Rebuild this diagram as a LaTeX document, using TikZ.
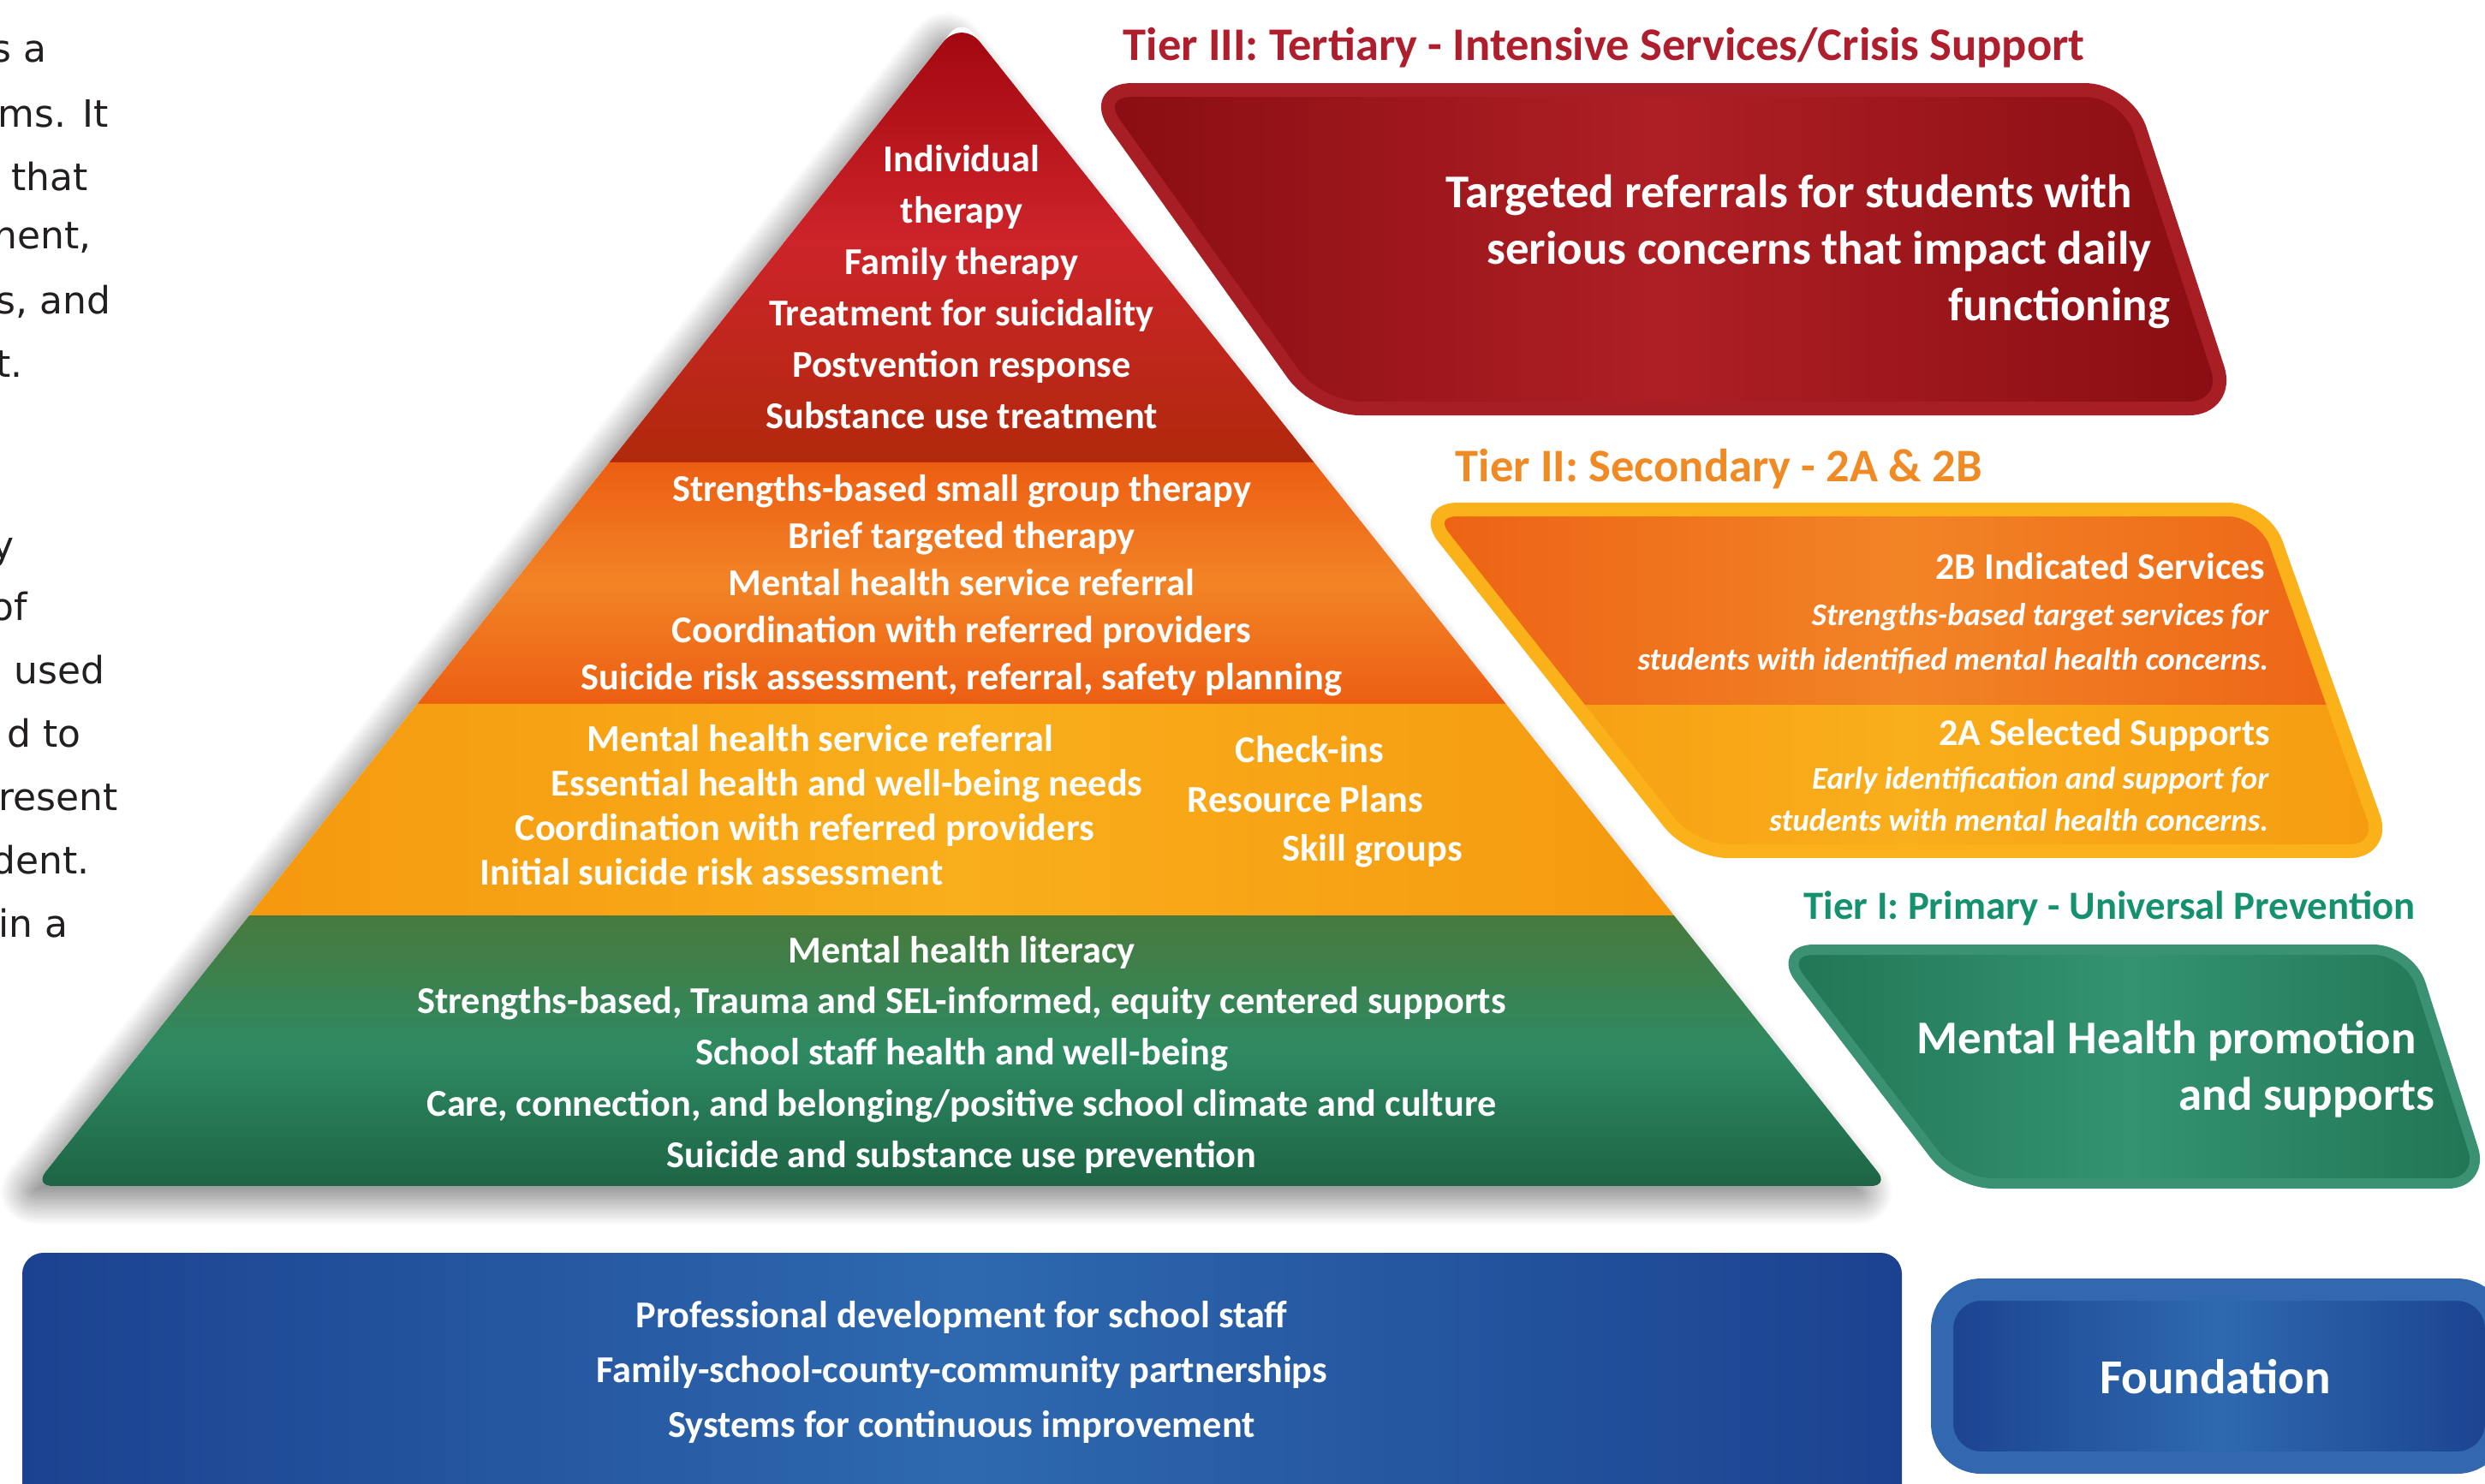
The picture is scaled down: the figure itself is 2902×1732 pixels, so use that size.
\documentclass[tikz,border=0pt]{standalone}
\usepackage{fontspec}
\setmainfont{Carlito}
\newfontfamily\sidefont{DejaVu Sans}
\usetikzlibrary{matrix,calc,shadows.blur}

\definecolor{pagetext}{HTML}{231F20}
\definecolor{redtop}{HTML}{A0060E}
\definecolor{redmid}{HTML}{CD242A}
\definecolor{redbot}{HTML}{B0290C}
\definecolor{orgedge}{HTML}{EC5E12}
\definecolor{orgmid}{HTML}{F28426}
\definecolor{yeledge}{HTML}{F5990F}
\definecolor{yelmid}{HTML}{F9AE1B}
\definecolor{grntop}{HTML}{487A3D}
\definecolor{grnmid}{HTML}{2E8A62}
\definecolor{grnbot}{HTML}{1D6445}
\definecolor{bluedark}{HTML}{1B4290}
\definecolor{bluemid}{HTML}{2E69AF}
\definecolor{fndedge}{HTML}{3168B0}
\definecolor{tthreetitle}{HTML}{AF1E2D}
\definecolor{tthreeedge}{HTML}{A81E25}
\definecolor{tthreedark}{HTML}{880D12}
\definecolor{tthreemid}{HTML}{AE1F24}
\definecolor{ttwotitle}{HTML}{F08A24}
\definecolor{ttwoedge}{HTML}{FAB11A}
\definecolor{tonetitle}{HTML}{15916F}
\definecolor{toneedge}{HTML}{3A9272}
\definecolor{tonedark}{HTML}{217554}
\definecolor{tonemid}{HTML}{339371}

\tikzset{
    pyrtext/.style={text=white, font=\bfseries\fontsize{12.6}{15}\selectfont, inner sep=0pt, anchor=base},
    pyrlist/.style={matrix of nodes, nodes={pyrtext}, row sep={#1,between origins}, inner sep=0pt},
    tiertitle/.style={font=\bfseries\fontsize{15.5}{18}\selectfont, inner sep=0pt, anchor=base west},
    boxtext/.style={text=white, font=\bfseries\fontsize{15.6}{18}\selectfont, inner sep=0pt, anchor=base east},
    subhead/.style={text=white, font=\bfseries\fontsize{12.5}{14}\selectfont, inner sep=0pt, anchor=base east},
    desc/.style={text=white, font=\bfseries\itshape\fontsize{10.5}{12}\selectfont, inner sep=0pt, anchor=base east},
    sidetext/.style={text=pagetext, font=\sidefont\fontsize{12.5}{15}\selectfont, inner sep=0pt, anchor=base east},
}

\begin{document}
\begin{tikzpicture}[x=0.01cm, y=-0.01cm]
    \useasboundingbox (0,0) rectangle (2902,1732);

    % text of the page, cut by the left edge
    \node (pg-1) [sidetext] at (55,72) {s a};
    \node (pg-2) [sidetext] at (127,148) {ms. It};
    \node (pg-3) [sidetext] at (103,222) {that};
    \node (pg-4) [sidetext] at (107,290) {nent,};
    \node (pg-5) [sidetext] at (130,366) {s, and};
    \node (pg-6) [sidetext] at (27,440) {t.};
    \node (pg-7) [sidetext] at (17,652) {y};
    \node (pg-8) [sidetext] at (33,724) {of};
    \node (pg-9) [sidetext] at (123,798) {used};
    \node (pg-10) [sidetext] at (95,872) {d to};
    \node (pg-11) [sidetext] at (138,946) {resent};
    \node (pg-12) [sidetext] at (105,1020) {dent.};
    \node (pg-13) [sidetext] at (80,1094) {in a};

    % the pyramid - corners and layer borders
    \coordinate (apex) at (1123,22);
    \coordinate (bl) at (40,1385);
    \coordinate (br) at (2206,1385);
    \coordinate (l1) at ($(apex)!0.3800!(bl)$);  \coordinate (r1) at ($(apex)!0.3800!(br)$);
    \coordinate (l2) at ($(apex)!0.5869!(bl)$);  \coordinate (r2) at ($(apex)!0.5869!(br)$);
    \coordinate (l3) at ($(apex)!0.7682!(bl)$);  \coordinate (r3) at ($(apex)!0.7682!(br)$);

    \fill[white, blur shadow={shadow xshift=-5pt, shadow yshift=-4pt, shadow blur radius=9pt, shadow blur steps=40, shadow opacity=55}]
        (apex) [rounded corners=6pt] -- (bl) -- (br) -- cycle;
    \shade[top color=redtop, bottom color=redbot, middle color=redmid] (l1) [rounded corners=10pt] -- (apex) [sharp corners] -- (r1) -- cycle;  % tier III
    \shade[top color=orgedge, bottom color=orgedge, middle color=orgmid] (l1) -- (r1) -- (r2) -- (l2) -- cycle;                           % tier II B
    \shade[left color=yeledge, right color=yeledge, middle color=yelmid] (l2) -- (r2) -- (r3) -- (l3) -- cycle;                           % tier II A
    \shade[top color=grntop, bottom color=grnbot, middle color=grnmid] (l3) [rounded corners=6pt] -- (bl) -- (br) [sharp corners] -- (r3) -- cycle; % tier I

    \matrix (redlist) [pyrlist=0.6cm, matrix anchor=redlist-1-1.base] at (1123,200) {
        Individual \\
        therapy \\
        Family therapy \\
        Treatment for suicidality \\
        Postvention response \\
        Substance use treatment \\
    };
    \matrix (orglist) [pyrlist=0.55cm, matrix anchor=orglist-1-1.base] at (1123,585) {
        Strengths-based small group therapy \\
        Brief targeted therapy \\
        Mental health service referral \\
        Coordination with referred providers \\
        Suicide risk assessment, referral, safety planning \\
    };
    \node (yel-1) [pyrtext, anchor=base west] at (685,877) {Mental health service referral};
    \node (yel-2) [pyrtext, anchor=base west] at (643,929) {Essential health and well-being needs};
    \node (yel-3) [pyrtext, anchor=base west] at (601,981) {Coordination with referred providers};
    \node (yel-4) [pyrtext, anchor=base west] at (560,1033) {Initial suicide risk assessment};
    \node (yel-5) [pyrtext, anchor=base west] at (1442,890) {Check-ins};
    \node (yel-6) [pyrtext, anchor=base west] at (1386,948) {Resource Plans};
    \node (yel-7) [pyrtext, anchor=base west] at (1497,1005) {Skill groups};
    \matrix (grnlist) [pyrlist=0.5975cm, matrix anchor=grnlist-1-1.base] at (1123,1124) {
        Mental health literacy \\
        Strengths-based, Trauma and SEL-informed, equity centered supports \\
        School staff health and well-being \\
        Care, connection, and belonging/positive school climate and culture \\
        Suicide and substance use prevention \\
    };

    % foundation bar under the pyramid
    \shade[left color=bluedark, right color=bluedark, middle color=bluemid] (26,1760) [rounded corners=7pt] -- (26,1463) -- (2221,1463) [sharp corners] -- (2221,1760) -- cycle;
    \matrix (fndlist) [pyrlist=0.64cm, matrix anchor=fndlist-1-1.base] at (1123,1550) {
        Professional development for school staff \\
        Family-school-county-community partnerships \\
        Systems for continuous improvement \\
    };

    % tier III
    \node (t3-title) [tiertitle, text=tthreetitle] at (1311,70) {Tier III: Tertiary - Intensive Services/Crisis Support};
    \draw[tthreeedge, line width=4.55pt, rounded corners=14pt, left color=tthreedark, right color=tthreedark, middle color=tthreemid]
        (1273,105) -- (2484,105) -- (2605,477) -- (1539,477) -- cycle;
    \node (t3-l1) [boxtext] at (2491,242) {Targeted referrals for students with};
    \node (t3-l2) [boxtext] at (2513,308) {serious concerns that impact daily};
    \node (t3-l3) [boxtext] at (2535,374) {functioning};

    % tier II
    \node (t2-title) [tiertitle, text=ttwotitle] at (1699,562) {Tier II: Secondary - 2A \& 2B};
    \begin{scope}
        \clip[rounded corners=12pt] (1660,595) -- (2644,595) -- (2786,994) -- (1976,994) -- cycle;
        \shade[left color=orgedge, right color=orgedge, middle color=orgmid] (1600,580) rectangle (2850,823);
        \shade[left color=yeledge, right color=yeledge, middle color=yelmid] (1600,823) rectangle (2850,1010);
    \end{scope}
    \draw[ttwoedge, line width=4.55pt, rounded corners=12pt] (1660,595) -- (2644,595) -- (2786,994) -- (1976,994) -- cycle;
    \node (t2b-head) [subhead] at (2646,676) {2B Indicated Services};
    \node (t2b-l1) [desc] at (2650,730) {Strengths-based target services for};
    \node (t2b-l2) [desc] at (2650,782) {students with identified mental health concerns.};
    \node (t2a-head) [subhead] at (2652,870) {2A Selected Supports};
    \node (t2a-l1) [desc] at (2650,921) {Early identification and support for};
    \node (t2a-l2) [desc] at (2650,970) {students with mental health concerns.};

    % tier I
    \node (t1-title) [tiertitle, text=tonetitle, font=\bfseries\fontsize{13.3}{15}\selectfont] at (2106,1073) {Tier I: Primary - Universal Prevention};
    \draw[toneedge, line width=3.4pt, rounded corners=12pt, left color=tonedark, right color=tonedark, middle color=tonemid]
        (2076,1109) -- (2814,1109) -- (2901,1382) -- (2285,1382) -- cycle;
    \node (t1-l1) [boxtext] at (2822,1230) {Mental Health promotion};
    \node (t1-l2) [boxtext] at (2844,1296) {and supports};

    % foundation
    \draw[fndedge, line width=7.4pt, rounded corners=13pt, left color=bluedark, right color=bluedark, middle color=bluemid]
        (2268,1506) rectangle (2915,1708);
    \node (fnd) [boxtext, anchor=base, font=\bfseries\fontsize{16.2}{18}\selectfont] at (2587,1627) {Foundation};
\end{tikzpicture}
\end{document}
